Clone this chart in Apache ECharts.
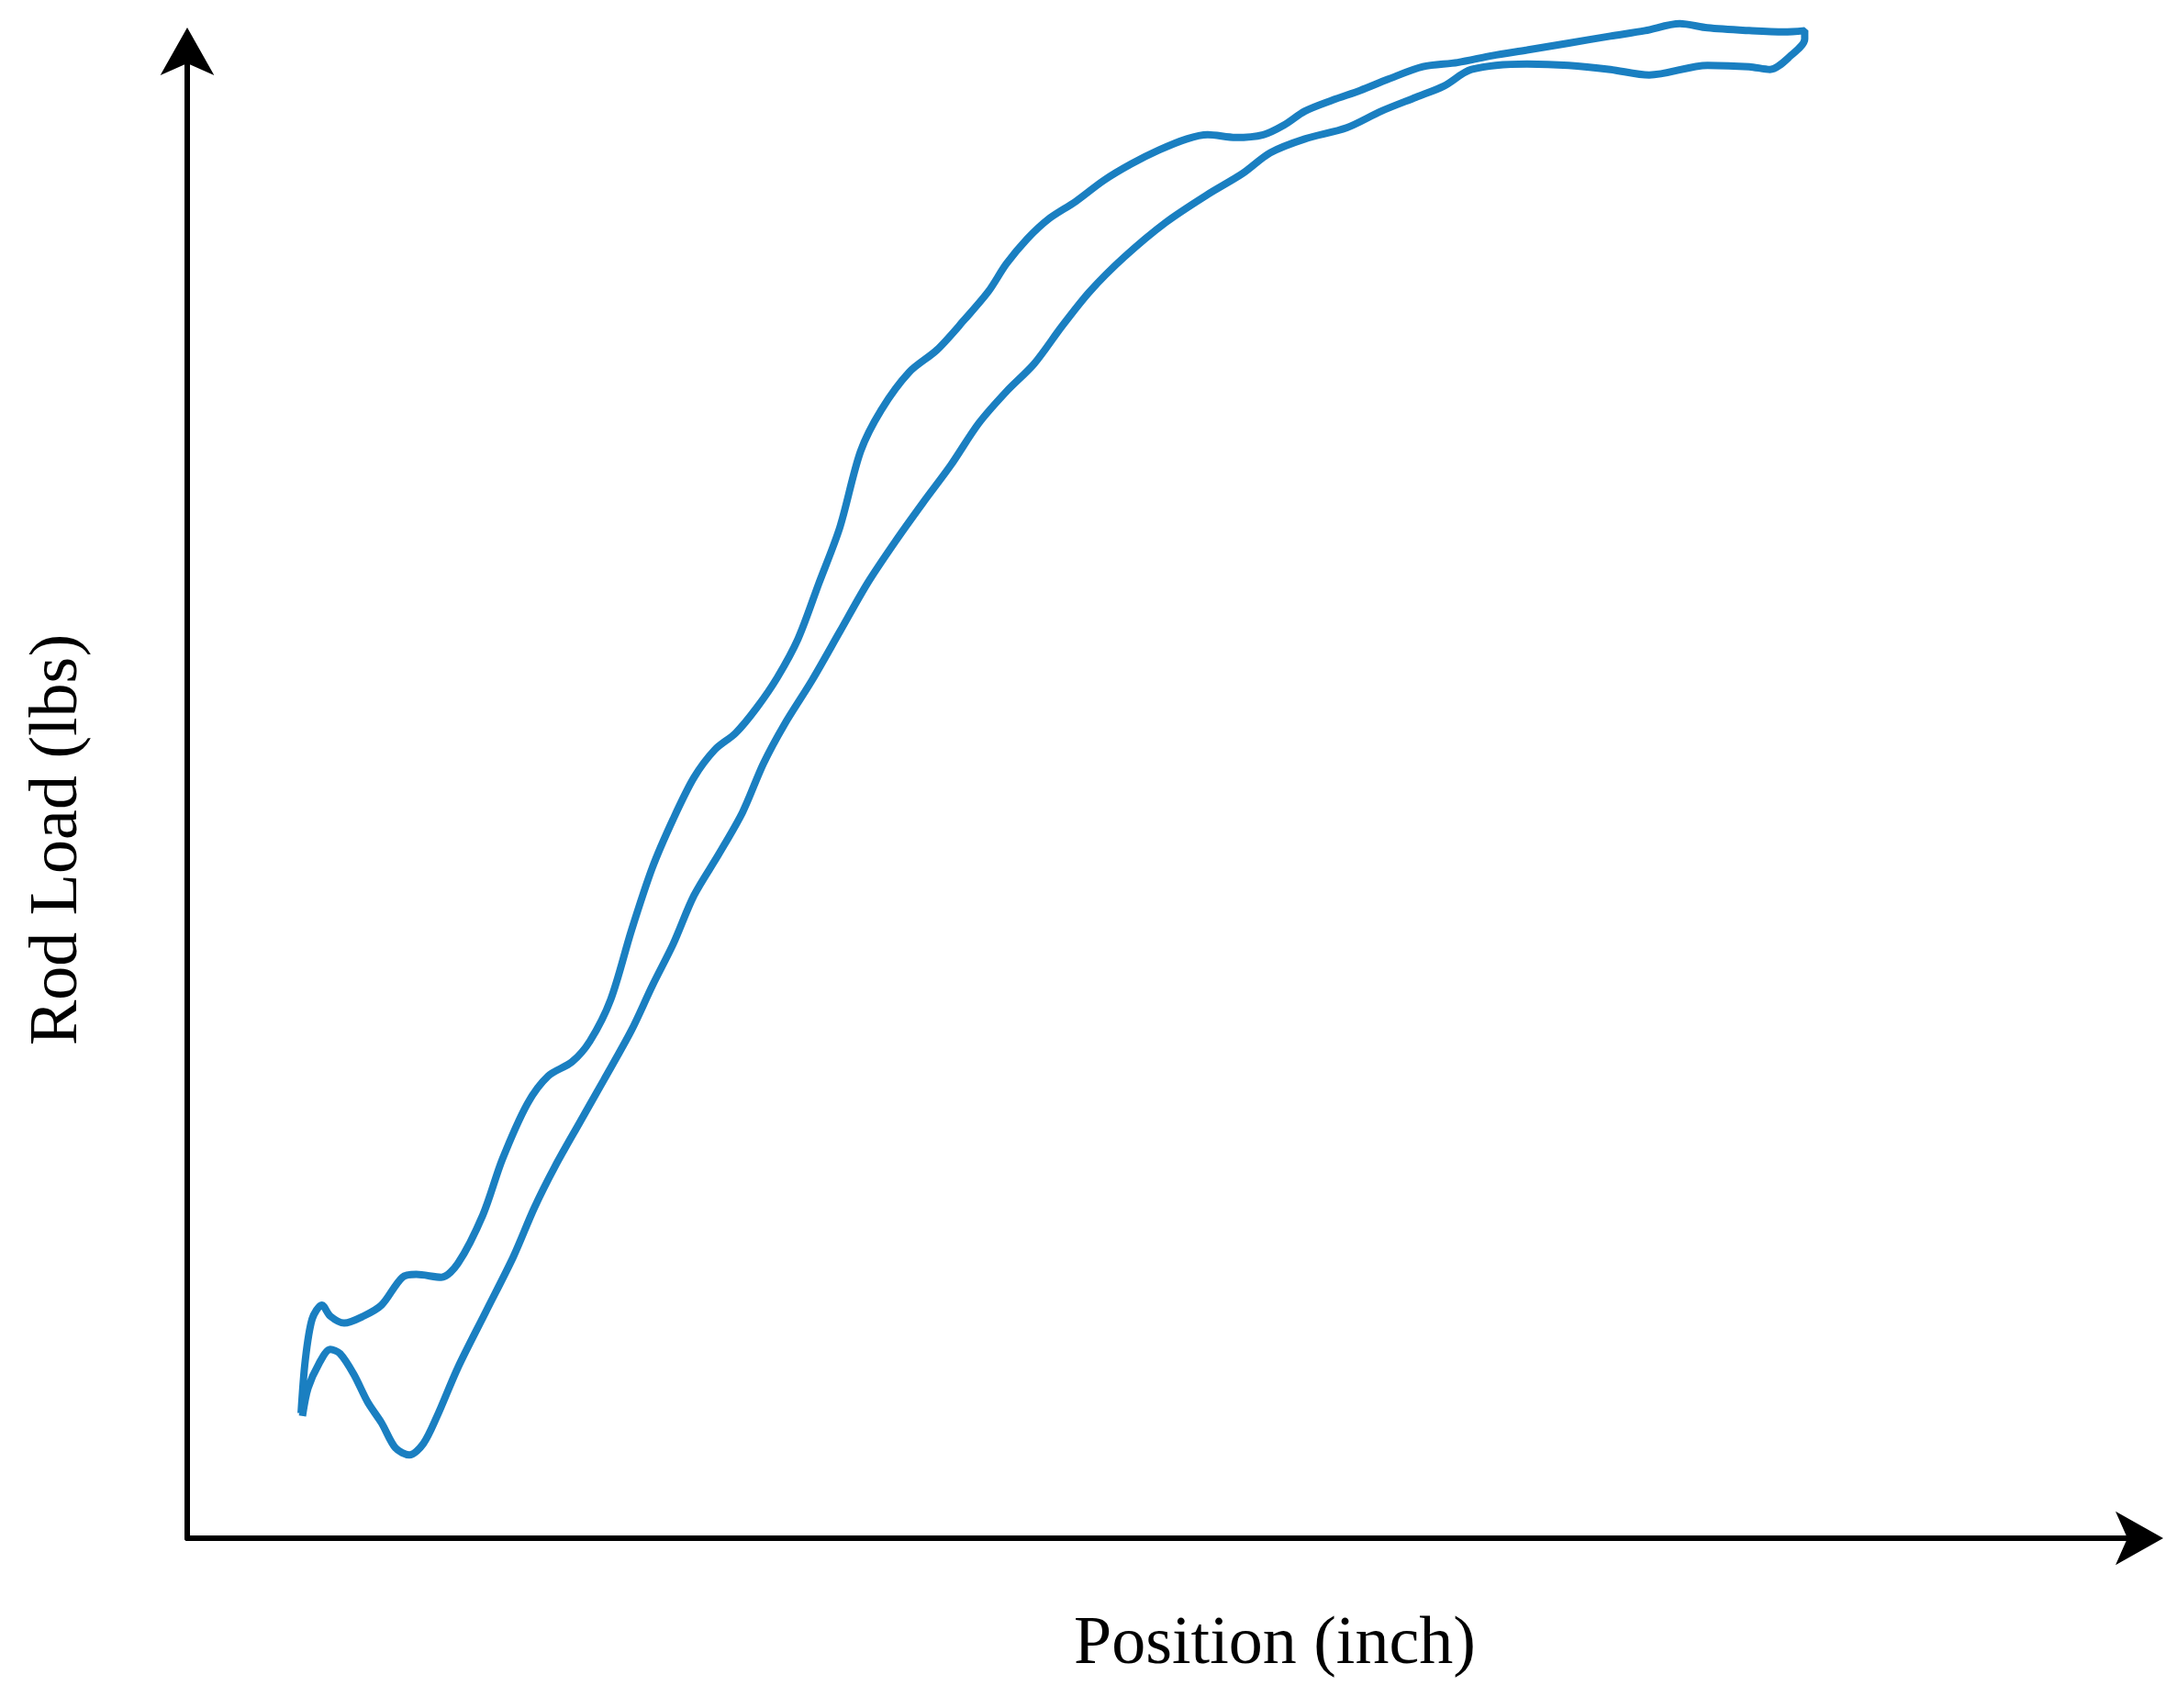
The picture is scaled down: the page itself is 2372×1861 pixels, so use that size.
<!DOCTYPE html>
<html><head><meta charset="utf-8">
<script src="https://cdn.jsdelivr.net/npm/echarts@6/dist/echarts.min.js"></script>
<style>html,body{margin:0;padding:0;background:#fff}#c{width:2372px;height:1861px}</style>
</head><body><div id="c"></div>
<script>
const upperX=[217,220,225,232,238,248,262,275,290,300,318,330,348,362,380,395,412,425,440,455,470,485,500,515,530,545,560,575,590,605,620,635,655,675,695,712,725,740,755,775,795,815,835,855,870,890,910,925,940,960,980,1000,1025,1050,1075,1100,1130,1160,1185,1210,1230,1260,1285,1300];
const upperY=[90,128,158,168,160,155,160,168,188,190,188,198,233,273,313,333,343,358,388,438,483,518,548,568,580,598,620,648,688,728,783,813,840,856,878,898,918,936,950,963,978,990,1000,1008,1011,1009,1011,1018,1028,1036,1043,1051,1060,1063,1068,1072,1077,1082,1086,1091,1088,1086,1085,1086];
const lowerX=[1300,1290,1275,1260,1230,1188,1160,1130,1100,1060,1040,1020,995,970,940,915,895,870,840,810,785,765,745,725,705,685,665,645,625,605,585,565,550,535,518,500,485,470,455,435,418,400,385,370,350,330,315,305,295,285,275,265,255,245,238,230,222,218];
const lowerY=[1080,1068,1058,1060,1061,1054,1058,1061,1062,1058,1046,1038,1028,1016,1008,998,983,968,948,923,898,873,846,826,803,773,746,718,688,653,618,586,558,523,493,463,428,398,366,330,300,268,238,203,163,123,88,68,60,65,83,98,118,133,136,126,108,88];
const xTitle='Position (inch)', yTitle='Rod Load (lbs)';
const data=[];
upperX.forEach((x,i)=>data.push([x,upperY[i]]));
lowerX.forEach((x,i)=>data.push([x,lowerY[i]]));
const chart=echarts.init(document.getElementById('c'));
const axisLine={show:true,lineStyle:{color:'#000',width:6},symbol:['none','arrow'],symbolSize:[44,52],symbolOffset:[0,20]};
chart.setOption({
 animation:false,
 grid:{left:204,right:35,top:50,bottom:185},
 xAxis:{type:'value',min:135,max:1545,axisLine,axisTick:{show:false},axisLabel:{show:false},splitLine:{show:false}},
 yAxis:{type:'value',min:0,max:1075,axisLine,axisTick:{show:false},axisLabel:{show:false},splitLine:{show:false}},
 graphic:[
  {type:'text',x:1389,y:1793,style:{text:xTitle,align:'center',verticalAlign:'middle',font:'74px "Liberation Serif"',fill:'#000'}},
  {type:'text',rotation:Math.PI/2,x:64,y:915,style:{text:yTitle,align:'center',verticalAlign:'middle',font:'74px "Liberation Serif"',fill:'#000'}}
 ],
 series:[{type:'line',data,smooth:0.3,clip:false,showSymbol:false,lineStyle:{color:'#1a7fc1',width:8}}]
});
</script></body></html>
